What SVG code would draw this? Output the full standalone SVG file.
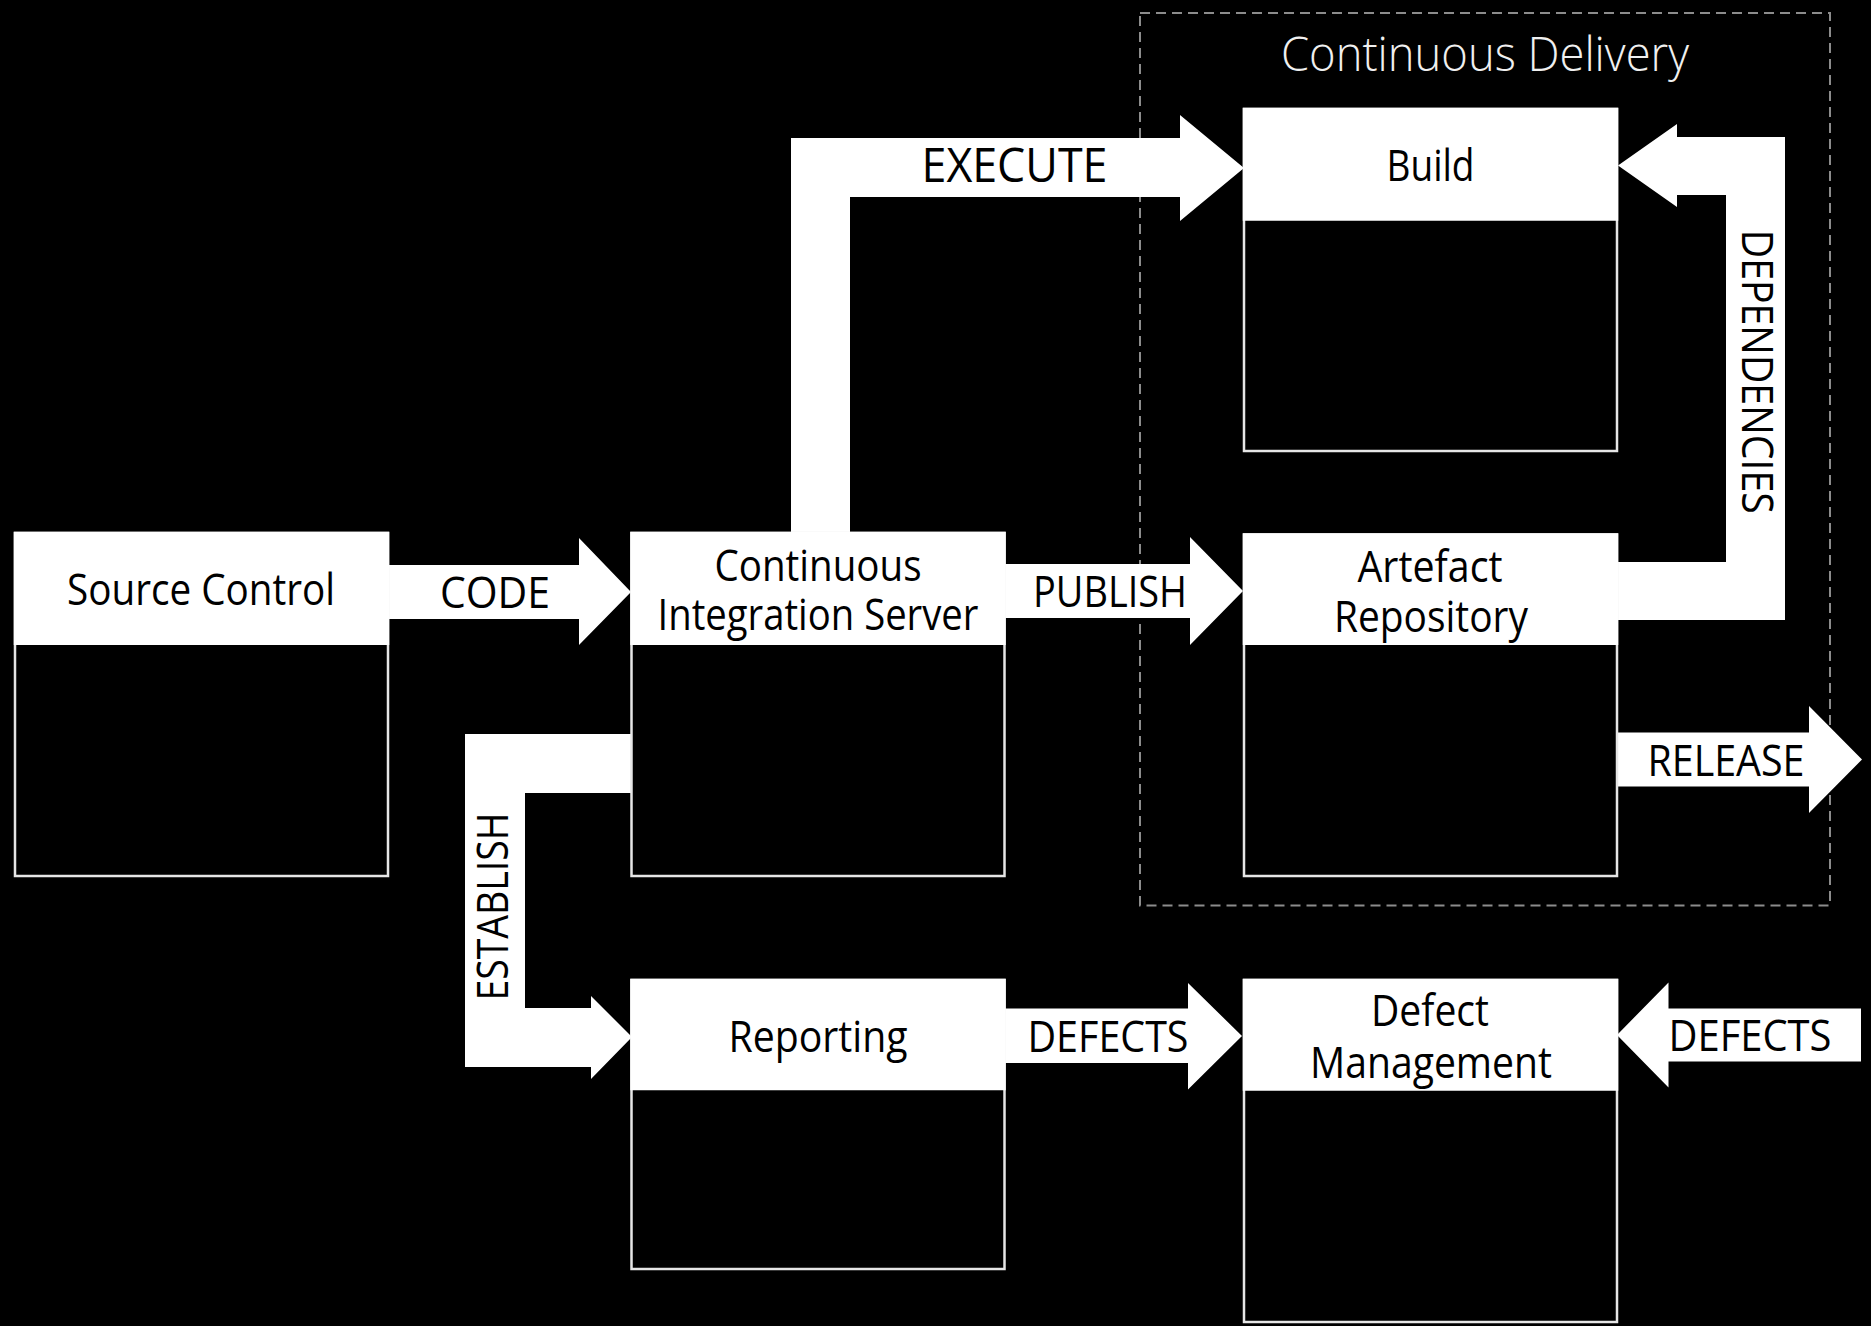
<svg xmlns="http://www.w3.org/2000/svg" width="1871" height="1326" viewBox="0 0 1871 1326">
<style>
.bg{fill:#000}
.body{fill:#000;stroke:#e6e6e6;stroke-width:2.5}
.head{fill:#fff}
.arrow{fill:#fff;stroke:none}
.t{font-family:"Open Sans","Noto Sans","Liberation Sans",sans-serif;font-size:43px;fill:#000;text-anchor:middle}
.title{font-family:"Open Sans","Noto Sans","Liberation Sans",sans-serif;font-size:48px;font-weight:300;fill:#f0f0f0;text-anchor:middle}
.frame{fill:none;stroke:#8c8c8c;stroke-width:2;stroke-dasharray:10 6}
</style>
<rect class="bg" x="0" y="0" width="1871" height="1326"/>

<g id="continuous-delivery">
<rect class="frame" x="1140" y="13" width="690" height="892.5"/>
<text class="title" x="1485" y="70.7" textLength="408" lengthAdjust="spacingAndGlyphs">Continuous Delivery</text>
</g>

<g id="connectors">
<polygon id="code" class="arrow" points="386,565 579,565 579,538 631,592 579,645 579,619 386,619"/>
<polygon id="publish" class="arrow" points="1003,564 1190,564 1190,537 1243,591 1190,645 1190,618 1003,618"/>
<polygon id="execute" class="arrow" points="791,535 791,138 1180,138 1180,115 1244,168 1180,221 1180,197 850,197 850,535"/>
<polygon id="dependencies" class="arrow" points="1615,562 1726,562 1726,195 1677,195 1677,207 1618,165.5 1677,124 1677,137 1785,137 1785,620 1615,620"/>
<polygon id="release" class="arrow" points="1615,732.5 1809,732.5 1809,706 1862,759.5 1809,813 1809,786.5 1615,786.5"/>
<polygon id="establish" class="arrow" points="633,734 465,734 465,1067 591,1067 591,1079 632,1037 591,996 591,1008 525,1008 525,793 633,793"/>
<polygon id="defects-1" class="arrow" points="1003,1008.5 1188,1008.5 1188,983 1242,1036 1188,1089.5 1188,1063 1003,1063"/>
<polygon id="defects-2" class="arrow" points="1861,1008.5 1668.5,1008.5 1668.5,982.5 1617,1035 1668.5,1087.5 1668.5,1061.5 1861,1061.5"/>
<text class="t" x="495" y="608.3" font-size="41" textLength="110" lengthAdjust="spacingAndGlyphs">CODE</text>
<text class="t" x="1110" y="607.3" textLength="154" lengthAdjust="spacingAndGlyphs">PUBLISH</text>
<text class="t" x="1014.5" y="182.3" style="font-size:48px" textLength="186" lengthAdjust="spacingAndGlyphs">EXECUTE</text>
<text class="t" x="1726" y="775.7" textLength="157" lengthAdjust="spacingAndGlyphs">RELEASE</text>
<text class="t" transform="translate(1742,371.7) rotate(90)" x="0" y="0" textLength="284" lengthAdjust="spacingAndGlyphs">DEPENDENCIES</text>
<text class="t" transform="translate(508,906.6) rotate(-90)" x="0" y="0" textLength="188" lengthAdjust="spacingAndGlyphs">ESTABLISH</text>
<text class="t" x="1108" y="1052" textLength="161" lengthAdjust="spacingAndGlyphs">DEFECTS</text>
<text class="t" x="1750" y="1051" textLength="163" lengthAdjust="spacingAndGlyphs">DEFECTS</text>
</g>

<g id="source-control">
<rect class="body" x="15" y="533" width="373" height="343"/>
<rect class="head" x="13.75" y="531.75" width="375.5" height="113.25"/>
<text class="t" x="201" y="605" textLength="268" lengthAdjust="spacingAndGlyphs">Source Control</text>
</g>

<g id="ci-server">
<rect class="body" x="631.5" y="533" width="373" height="343"/>
<rect class="head" x="630.25" y="531.75" width="375.5" height="113.25"/>
<text class="t" x="818" y="580.7" textLength="207" lengthAdjust="spacingAndGlyphs">Continuous</text>
<text class="t" x="818" y="630" textLength="321" lengthAdjust="spacingAndGlyphs">Integration Server</text>
</g>

<g id="build">
<rect class="body" x="1244" y="109" width="373" height="342"/>
<rect class="head" x="1242.75" y="107.75" width="375.5" height="113"/>
<text class="t" x="1430.5" y="180.7" textLength="88" lengthAdjust="spacingAndGlyphs">Build</text>
</g>

<g id="artefact-repository">
<rect class="body" x="1244" y="534.5" width="373" height="341.5"/>
<rect class="head" x="1242.75" y="533.25" width="375.5" height="111.75"/>
<text class="t" x="1430" y="581.7" textLength="145" lengthAdjust="spacingAndGlyphs">Artefact</text>
<text class="t" x="1431" y="631.7" textLength="194" lengthAdjust="spacingAndGlyphs">Repository</text>
</g>

<g id="reporting">
<rect class="body" x="631.5" y="980" width="373" height="289"/>
<rect class="head" x="630.25" y="978.75" width="375.5" height="111.5"/>
<text class="t" x="818" y="1052" textLength="179" lengthAdjust="spacingAndGlyphs">Reporting</text>
</g>

<g id="defect-management">
<rect class="body" x="1244" y="980" width="373" height="342"/>
<rect class="head" x="1242.75" y="978.75" width="375.5" height="112"/>
<text class="t" x="1430" y="1026" textLength="118" lengthAdjust="spacingAndGlyphs">Defect</text>
<text class="t" x="1431" y="1078" textLength="242" lengthAdjust="spacingAndGlyphs">Management</text>
</g>
</svg>
